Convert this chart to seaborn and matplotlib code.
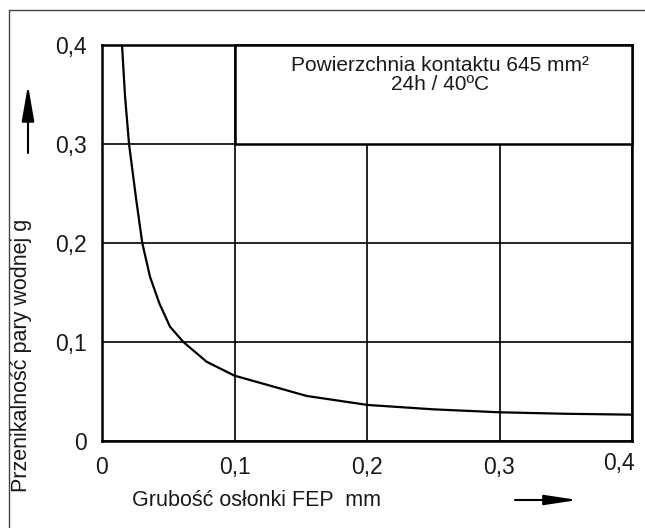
import matplotlib
matplotlib.use("Agg")
import matplotlib.pyplot as plt
from matplotlib.patches import Rectangle, FancyArrowPatch
from matplotlib.lines import Line2D
import matplotlib.transforms as mtransforms
import seaborn as sns
import pandas as pd

# FEP sheath thickness (mm) vs. water vapour permeability (g)
thickness = [0.0151, 0.0174, 0.0204, 0.0257, 0.0304, 0.0362, 0.0433, 0.0513,
             0.0614, 0.0790, 0.1000, 0.1545, 0.2005, 0.2500, 0.3000, 0.3500, 0.4000]
permeability = [0.400, 0.348, 0.300, 0.245, 0.200, 0.166, 0.139, 0.1155,
                0.100, 0.080, 0.066, 0.0455, 0.0364, 0.032, 0.029, 0.0275, 0.0266]

tick_values = [0.0, 0.1, 0.2, 0.3, 0.4]
tick_labels = ["0", "0,1", "0,2", "0,3", "0,4"]

x_label = "Grubość osłonki FEP  mm"
y_label = "Przenikalność pary wodnej g"
note_lines = ["Powierzchnia kontaktu 645 mm²", "24h / 40ºC"]

df = pd.DataFrame({"thickness": thickness, "permeability": permeability})

sns.set_theme(style="white")
plt.rcParams["font.family"] = ["Liberation Sans", "DejaVu Sans"]

W, H = 645, 528
fig = plt.figure(figsize=(W / 100, H / 100), dpi=100)
ax = fig.add_axes([102 / W, 1 - 441 / H, (632 - 102) / W, (441 - 45) / H])

sns.lineplot(data=df, x="thickness", y="permeability", ax=ax,
             color="black", linewidth=1.6, zorder=4)

ax.set_xlim(0, 0.4)
ax.set_ylim(0, 0.4)
ax.set_xticks(tick_values)
ax.set_xticklabels(tick_labels)
ax.set_yticks(tick_values)
ax.set_yticklabels(tick_labels)
ax.tick_params(axis="both", length=0, labelsize=16.5, colors="#1a1a1a")
ax.tick_params(axis="y", pad=11)
ax.tick_params(axis="x", pad=11)
ax.set_xlabel("")
ax.set_ylabel("")

# last x label sits flush with the right end of the axis, a little higher
last = ax.get_xticklabels()[-1]
last.set_horizontalalignment("right")
last.set_transform(last.get_transform() +
                   mtransforms.ScaledTranslation(3 / 100, 4 / 100, fig.dpi_scale_trans))

ax.grid(True, color="black", linewidth=1.2)
ax.set_axisbelow(True)
for s in ax.spines.values():
    s.set_visible(True)
    s.set_color("black")
    s.set_linewidth(1.8)

# boxed note in the upper right cell block
box = Rectangle((0.1, 0.3), 0.3, 0.1, facecolor="white", edgecolor="black",
                linewidth=1.8, zorder=3, clip_on=False)
ax.add_patch(box)
ax.text(0.255, 0.389, "\n".join(note_lines), ha="center", va="top",
        multialignment="center", linespacing=0.98,
        fontsize=15, color="#1a1a1a", zorder=5)

# axis titles
fig.text(132 / W, 1 - 500 / H, x_label, ha="left", va="center",
         fontsize=15.5, color="#1a1a1a")
fig.text(22 / W, 1 - 355 / H, y_label, ha="center", va="center",
         rotation=90, fontsize=15.5, color="#1a1a1a")

# direction arrows
fig.add_artist(FancyArrowPatch((28 / W, 1 - 153 / H), (28 / W, 1 - 85 / H),
                               transform=fig.transFigure, shrinkA=0, shrinkB=0,
                               arrowstyle="-|>,head_length=1.1,head_width=0.19",
                               mutation_scale=20, color="black", linewidth=1.5))
fig.add_artist(FancyArrowPatch((515 / W, 1 - 500 / H), (578 / W, 1 - 500 / H),
                               transform=fig.transFigure, shrinkA=0, shrinkB=0,
                               arrowstyle="-|>,head_length=1.0,head_width=0.15",
                               mutation_scale=20, color="black", linewidth=1.5))

# outer frame
fig.add_artist(Line2D([9 / W, 9 / W], [0, 1 - 10 / H], transform=fig.transFigure,
                      color="#444444", linewidth=1.0))
fig.add_artist(Line2D([9 / W, 1], [1 - 10 / H, 1 - 10 / H], transform=fig.transFigure,
                      color="#444444", linewidth=1.0))

fig.savefig("out.png", dpi=100)
